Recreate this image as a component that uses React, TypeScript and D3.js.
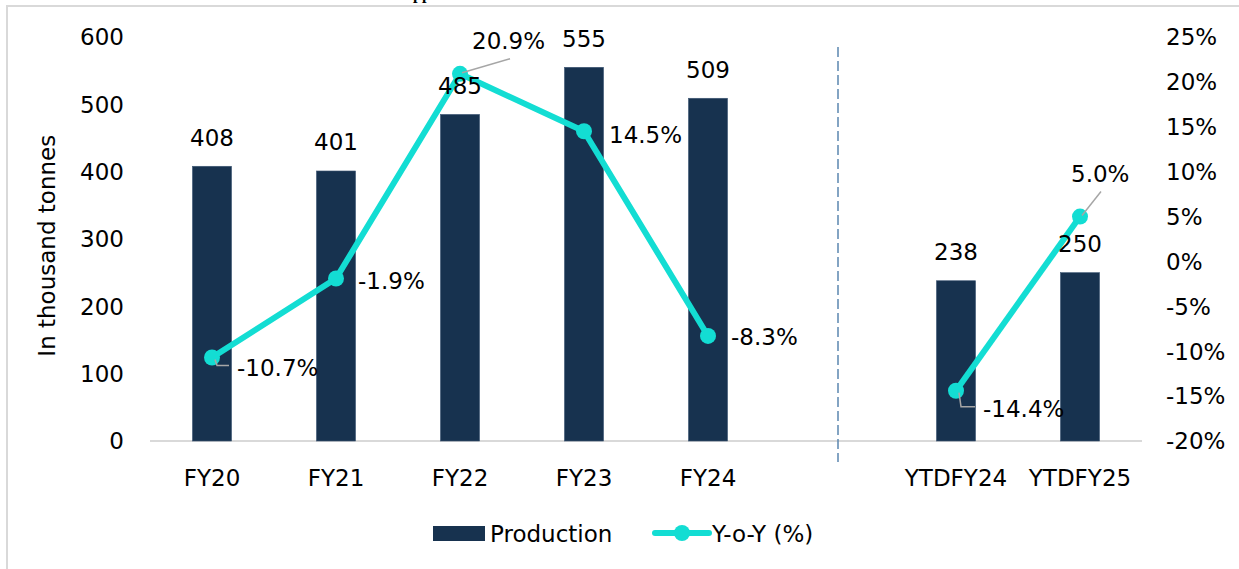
import React from "react";
import * as d3 from "d3";

const categories = ["FY20", "FY21", "FY22", "FY23", "FY24", "YTDFY24", "YTDFY25"];
const production = [408, 401, 485, 555, 509, 238, 250];
const yoy = [-10.7, -1.9, 20.9, 14.5, -8.3, -14.4, 5.0];
const leftTicks = [0, 100, 200, 300, 400, 500, 600];
const rightTicks = [-20, -15, -10, -5, 0, 5, 10, 15, 20, 25];
const segments = [[0, 1, 2, 3, 4], [5, 6]];
const SEP = "__sep__";

// label placement for Y-o-Y labels: [dx, dy, anchor, leader]
const yoyLabelPos: [number, number, string, string][] = [
  [25, 10, "start", "elbow"],
  [22, 2, "start", ""],
  [12, -33, "start", "up"],
  [25, 3, "start", ""],
  [23, 1, "start", ""],
  [27, 18, "start", "elbow"],
  [-9, -43, "start", "up"],
];

const W = 1239;
const H = 569;
const FONT = "'DejaVu Sans', Verdana, sans-serif";
const FS = 23;
const BAR = "#17324f";
const LINE = "#13ddd3";

export default function App() {
  const slots = [...categories.slice(0, 5), SEP, ...categories.slice(5)];
  const pi = 0.685;
  const x = d3.scaleBand<string>().domain(slots).range([150, 1142]).paddingInner(pi).paddingOuter(pi / 2);
  const cx = (c: string) => (x(c) as number) + x.bandwidth() / 2;
  const yL = d3.scaleLinear().domain([0, 600]).range([441, 37]);
  const yR = d3.scaleLinear().domain([-20, 25]).range([441, 37]);
  const lineGen = d3.line<number>().x((i) => cx(categories[i])).y((i) => yR(yoy[i]));
  const sepX = cx(SEP) + 6;

  return (
    <svg width={W} height={H} style={{ position: "absolute", left: 0, top: 0, background: "#fff" }} fontFamily={FONT}>
      <rect x={7} y={6} width={W + 20} height={H + 20} fill="#fff" stroke="#d9d9d9" strokeWidth={2} />
      <text x={413} y={-1} fontFamily="'Liberation Serif', serif" fontWeight="bold" fontSize={16} fill="#000">pp</text>

      {/* axis line */}
      <line x1={x.range()[0]} x2={x.range()[1]} y1={yL(0)} y2={yL(0)} stroke="#d9d9d9" strokeWidth={2} />

      {/* left ticks */}
      {leftTicks.map((t) => (
        <text key={t} x={124} y={yL(t)} dy="0.36em" textAnchor="end" fontSize={FS} fill="#000">{t}</text>
      ))}
      {/* right ticks */}
      {rightTicks.map((t) => (
        <text key={t} x={1166} y={yR(t)} dy="0.36em" textAnchor="start" fontSize={FS} fill="#000">{t}%</text>
      ))}
      <text transform={`translate(47,${yL(290)}) rotate(-90)`} textAnchor="middle" dy="0.36em" fontSize={23} fill="#000">In thousand tonnes</text>

      {/* separator */}
      <line x1={sepX} x2={sepX} y1={47} y2={462} stroke="#5b87b0" strokeWidth={1.5} strokeDasharray="10 4" />

      {/* bars */}
      {categories.map((c, i) => (
        <rect key={c} x={x(c)} y={yL(production[i])} width={x.bandwidth()} height={yL(0) - yL(production[i])} fill={BAR} stroke="#3d5673" strokeWidth={0.6} />
      ))}

      {/* x labels */}
      {categories.map((c) => (
        <text key={c} x={cx(c)} y={478} dy="0.36em" textAnchor="middle" fontSize={FS} fill="#000">{c}</text>
      ))}

      {/* line */}
      {segments.map((s, k) => (
        <path key={k} d={lineGen(s) as string} fill="none" stroke={LINE} strokeWidth={6} strokeLinejoin="round" />
      ))}
      {categories.map((c, i) => (
        <circle key={c} cx={cx(c)} cy={yR(yoy[i])} r={8} fill={LINE} />
      ))}

      {/* leaders */}
      {categories.map((c, i) => {
        const [dx, dy, , kind] = yoyLabelPos[i];
        const px = cx(c);
        const py = yR(yoy[i]);
        if (kind === "elbow") {
          return <polyline key={c} points={`${px + 3},${py + 2} ${px + 5},${py + dy - 2} ${px + dx - 8},${py + dy - 2}`} fill="none" stroke="#a6a6a6" strokeWidth={1.5} />;
        }
        if (kind === "up") {
          const tx = px + dx + (i === 2 ? 38 : 30);
          return <line key={c} x1={px + 2} y1={py - 1} x2={tx} y2={py + dy + 18} stroke="#a6a6a6" strokeWidth={1.5} />;
        }
        return null;
      })}

      {/* bar value labels */}
      {categories.map((c, i) => (
        <text key={c} x={cx(c)} y={yL(production[i]) - 29} dy="0.36em" textAnchor="middle" fontSize={FS} fill="#000">{production[i]}</text>
      ))}

      {/* yoy labels */}
      {categories.map((c, i) => {
        const [dx, dy, anchor] = yoyLabelPos[i];
        return (
          <text key={c} x={cx(c) + dx} y={yR(yoy[i]) + dy} dy="0.36em" textAnchor={anchor as any} fontSize={FS} fill="#000">{yoy[i].toFixed(1)}%</text>
        );
      })}

      {/* legend */}
      <rect x={433} y={526} width={52} height={15} fill={BAR} />
      <text x={490} y={533.5} dy="0.36em" fontSize={FS} fill="#000">Production</text>
      <line x1={655} x2={709} y1={533} y2={533} stroke={LINE} strokeWidth={6} strokeLinecap="round" />
      <circle cx={682} cy={533} r={8} fill={LINE} />
      <text x={712} y={533.5} dy="0.36em" fontSize={FS} fill="#000">Y-o-Y (%)</text>
    </svg>
  );
}
